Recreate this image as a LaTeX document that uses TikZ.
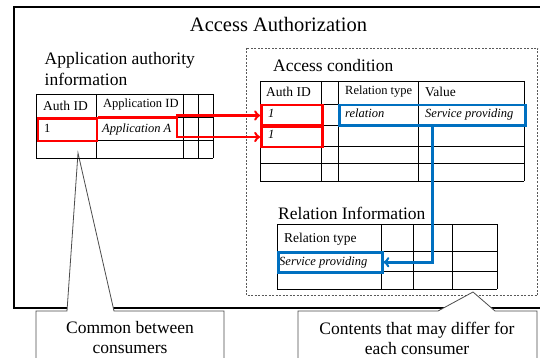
\documentclass[tikz,border=0pt]{standalone}
\usepackage{fontspec}
\setmainfont{Liberation Serif}
\usepackage{xcolor}
\usepackage{tikz}
\usetikzlibrary{calc}

\definecolor{markred}{RGB}{255,0,0}
\definecolor{markblue}{RGB}{0,112,192}

\tikzset{
	tabline/.style={black, line width=0.8pt},
	headtext/.style={anchor=base west, inner sep=0pt, align=left, font=\fontsize{17.5}{21}\selectfont},
	cellhead/.style={anchor=base west, inner sep=0pt, font=\fontsize{13.5}{15}\selectfont},
	celltext/.style={anchor=base west, inner sep=0pt, font=\fontsize{12.5}{15}\selectfont},
	cellital/.style={celltext, font=\fontsize{12.5}{15}\selectfont\itshape},
	redbox/.style={draw=markred, line width=2.5pt, inner sep=0pt, anchor=north west},
	bluebox/.style={draw=markblue, line width=2.5pt, inner sep=0pt, anchor=north west},
	redlink/.style={markred, line width=2.5pt, ->},
	bluelink/.style={markblue, line width=2.5pt, ->},
	callout/.style={draw=gray!60!black, fill=white, line width=0.8pt},
	calltext/.style={align=center, inner sep=0pt, font=\fontsize{17.5}{20}\selectfont}
}

\begin{document}
\begin{tikzpicture}[x=1pt, y=-1pt]
	
	\useasboundingbox (0,0) rectangle (540,358);
	\clip (0,0) rectangle (540,358);
	
	% Define the frames
	\draw[line width=2.3pt] (14,7) rectangle (560,308);
	\draw[gray!70!black, line width=0.6pt, dash pattern=on 2pt off 1.5pt] (246.5,48) rectangle (537.5,295.5);
	\node[anchor=base, inner sep=0pt, font=\fontsize{20.5}{24}\selectfont] (title) at (278.5,32) {Access Authorization};
	
	% Callouts below the frame
	\draw[callout] (36,380) -- (36,311) -- (67,311) -- (78,153) -- (114,311) -- (224,311) -- (224,380);
	\draw[callout] (298,380) -- (298,311) -- (438,311) -- (473,292) -- (495,311) -- (537,311) -- (537,380);
	\node[calltext] (common) at (130,338) {Common between\\consumers};
	\node[calltext] (differ) at (417,338) {Contents that may differ for\\each consumer};
	
	% Application authority table
	\node[headtext] (apphead) at (44.5,86) {Application authority\\information};
	\foreach \x in {36,96,183,198,213} \draw[tabline] (\x,94) -- (\x,158);
	\foreach \y in {94,117,140,158} \draw[tabline] (36,\y) -- (213,\y);
	\node[cellhead] (appauth) at (43,111) {Auth ID};
	\node[celltext] (appid) at (103,108) {Application ID};
	\node[celltext] (appone) at (44,133) {1};
	\node[cellital] (appname) at (102,133) {Application A};
	
	% Access condition table
	\node[headtext] (condhead) at (273,72) {Access condition};
	\foreach \x in {260,321,338,418,524} \draw[tabline] (\x,81) -- (\x,181);
	\foreach \y in {81,104,125,146,163,181} \draw[tabline] (260,\y) -- (524,\y);
	\node[cellhead] (condauth) at (266,97) {Auth ID};
	\node[celltext] (condtype) at (345,95) {Relation type};
	\node[cellhead] (condvalue) at (425,97) {Value};
	\node[cellital] (condidone) at (268,118) {1};
	\node[cellital] (condrel) at (345,118) {relation};
	\node[cellital] (condserv) at (425,118) {Service providing};
	\node[cellital] (condidtwo) at (268,139) {1};
	
	% Relation information table
	\node[headtext] (relhead) at (278,219) {Relation Information};
	\foreach \x in {277,381,413,452,497} \draw[tabline] (\x,224) -- (\x,289);
	\foreach \y in {224,251,271,289} \draw[tabline] (277,\y) -- (497,\y);
	\node[cellhead] (reltype) at (284,242) {Relation type};
	\node[cellital] (relserv) at (279,265) {Service providing};
	
	% Highlighted cells
	\node[redbox, minimum width=59pt, minimum height=22.5pt] (authsrc) at (36.5,117.5) {};
	\node[redbox, minimum width=61pt, minimum height=20.5pt] (condone) at (260,104) {};
	\node[redbox, minimum width=61pt, minimum height=20.5pt] (condtwo) at (260,125.5) {};
	\node[bluebox, minimum width=186pt, minimum height=20.5pt] (condval) at (338,104) {};
	\node[bluebox, minimum width=104pt, minimum height=20pt] (relval) at (277,251) {};
	
	% Links between the tables
	\coordinate (fork) at (177,117.5);
	\draw[redlink] (authsrc.north east) -- (fork) |- (condone.west);
	\draw[redlink] (fork) |- (condtwo.west);
	\draw[bluelink] (condval.south) |- (relval.east);
	
\end{tikzpicture}
\end{document}
